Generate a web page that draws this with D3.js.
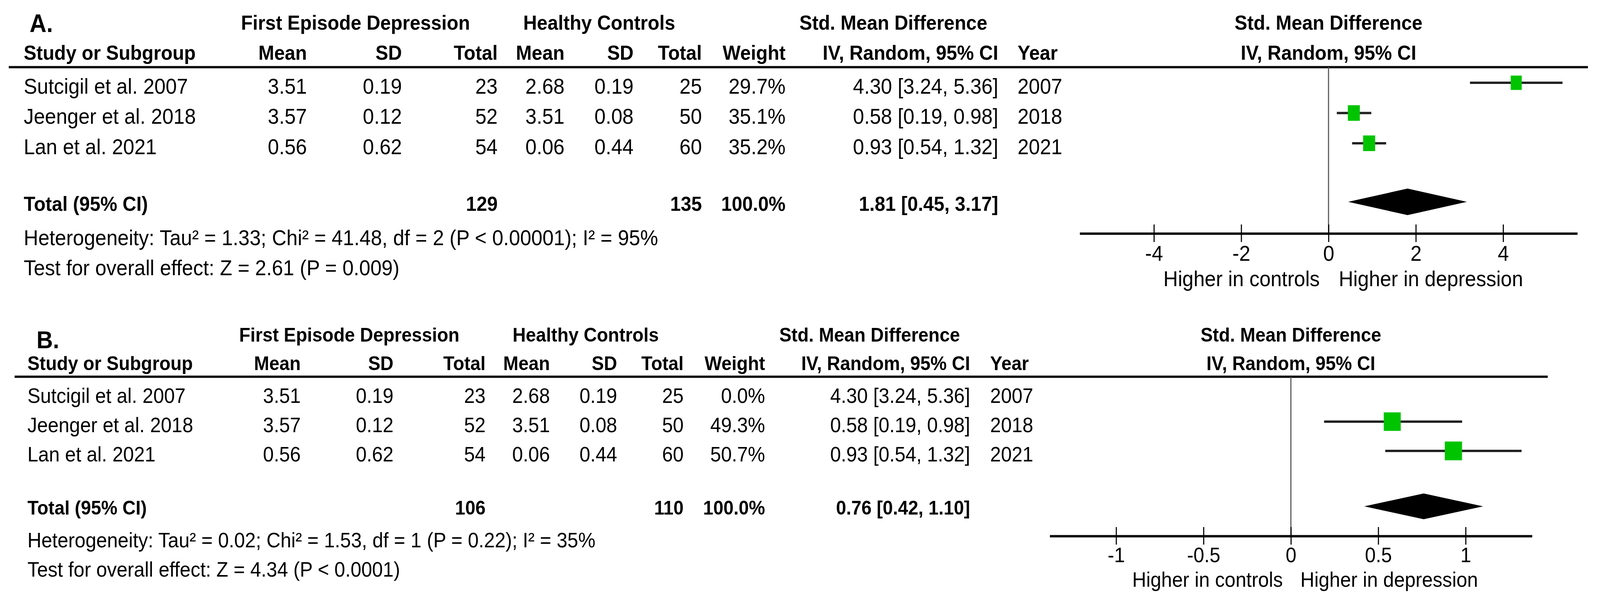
<!DOCTYPE html>
<html>
<head>
<meta charset="utf-8">
<script src="https://cdn.jsdelivr.net/npm/d3@7"></script>
<style>
  html, body { margin: 0; padding: 0; background: #fff; overflow: hidden; }
  svg { display: block; font-family: "Liberation Sans", Arial, sans-serif; }
</style>
</head>
<body>
<div id="chart"></div>
<script>
// ---- data ----
const studies = ['Sutcigil et al. 2007', 'Jeenger et al. 2018', 'Lan et al. 2021'];
const years = [2007, 2018, 2021];
const fedMean = [3.51, 3.57, 0.56];
const fedSD = [0.19, 0.12, 0.62];
const fedN = [23, 52, 54];
const hcMean = [2.68, 3.51, 0.06];
const hcSD = [0.19, 0.08, 0.44];
const hcN = [25, 50, 60];
const smd = [4.30, 0.58, 0.93];
const ciLow = [3.24, 0.19, 0.54];
const ciHigh = [5.36, 0.98, 1.32];

const weightA = [29.7, 35.1, 35.2];
const weightB = [0.0, 49.3, 50.7];

const totalsA = { fed: 129, hc: 135, est: 1.81, lo: 0.45, hi: 3.17 };
const totalsB = { fed: 106, hc: 110, est: 0.76, lo: 0.42, hi: 1.10 };

const hetA = 'Heterogeneity: Tau² = 1.33; Chi² = 41.48, df = 2 (P < 0.00001); I² = 95%';
const testA = 'Test for overall effect: Z = 2.61 (P = 0.009)';
const hetB = 'Heterogeneity: Tau² = 0.02; Chi² = 1.53, df = 1 (P = 0.22); I² = 35%';
const testB = 'Test for overall effect: Z = 4.34 (P < 0.0001)';

const ticksA = [-4, -2, 0, 2, 4];
const ticksB = [-1, -0.5, 0, 0.5, 1];
const domainA = [-5.7, 5.7];
const domainB = [-1.38, 1.38];

// ---- page ----
const width = 4379;
const height = 1542;

// drawn in reference pixel units, stretched to whatever the window really is
const svg = d3.select('#chart')
              .append('svg')
              .attr('viewBox', `0 0 ${width} ${height}`)
              .attr('preserveAspectRatio', 'none')
              .style('width', '100vw')
              .style('height', '100vh');

svg.append('rect').attr('width', width).attr('height', height).attr('fill', '#fff');

function drawPanel(p) {
    const g = svg.append('g');

    const text = (x, y, s, bold, anchor) => g.append('text')
        .attr('x', x)
        .attr('y', y)
        .attr('font-size', bold ? p.fsb : p.fs)
        .attr('font-weight', bold ? 'bold' : 'normal')
        .attr('text-anchor', anchor || 'start')
        .attr('fill', '#000')
        .text(s);

    const x = d3.scaleLinear().domain(p.domain).range([p.plotX0, p.plotX1]);
    const row = d3.scaleLinear().domain([0, studies.length - 1]).range([p.row0, p.rowN]);
    const side = d3.scaleSqrt().domain([0, 100]).range([0, p.sqMax]);
    const c = p.cols;

    // panel letter
    g.append('text')
     .attr('x', p.labelX).attr('y', p.labelY)
     .attr('font-size', p.labelSize).attr('font-weight', 'bold')
     .text(p.label);

    // group headers
    text(p.groupX.fed, p.groupY, 'First Episode Depression', true, 'middle');
    text(p.groupX.hc, p.groupY, 'Healthy Controls', true, 'middle');
    text(p.groupX.smd, p.groupY, 'Std. Mean Difference', true, 'middle');
    text(x(0), p.groupY, 'Std. Mean Difference', true, 'middle');

    // column headers
    text(c.study, p.headY, 'Study or Subgroup', true);
    text(c.fedMean, p.headY, 'Mean', true, 'end');
    text(c.fedSD, p.headY, 'SD', true, 'end');
    text(c.fedN, p.headY, 'Total', true, 'end');
    text(c.hcMean, p.headY, 'Mean', true, 'end');
    text(c.hcSD, p.headY, 'SD', true, 'end');
    text(c.hcN, p.headY, 'Total', true, 'end');
    text(c.weight, p.headY, 'Weight', true, 'end');
    text(c.ci, p.headY, 'IV, Random, 95% CI', true, 'end');
    text(c.year, p.headY, 'Year', true);
    text(x(0), p.headY, 'IV, Random, 95% CI', true, 'middle');

    g.append('line')
     .attr('x1', p.ruleX0).attr('x2', p.ruleX1)
     .attr('y1', p.ruleY).attr('y2', p.ruleY)
     .attr('stroke', '#111').attr('stroke-width', 6);

    // study rows
    studies.forEach((s, i) => {
        const y = row(i);
        text(c.study, y, s);
        text(c.fedMean, y, fedMean[i].toFixed(2), false, 'end');
        text(c.fedSD, y, fedSD[i].toFixed(2), false, 'end');
        text(c.fedN, y, fedN[i], false, 'end');
        text(c.hcMean, y, hcMean[i].toFixed(2), false, 'end');
        text(c.hcSD, y, hcSD[i].toFixed(2), false, 'end');
        text(c.hcN, y, hcN[i], false, 'end');
        text(c.weight, y, p.weights[i].toFixed(1) + '%', false, 'end');
        text(c.ci, y, `${smd[i].toFixed(2)} [${ciLow[i].toFixed(2)}, ${ciHigh[i].toFixed(2)}]`, false, 'end');
        text(c.year, y, years[i]);
    });

    // totals
    const t = p.totals;
    text(c.study, p.totalY, 'Total (95% CI)', true);
    text(c.fedN, p.totalY, t.fed, true, 'end');
    text(c.hcN, p.totalY, t.hc, true, 'end');
    text(c.weight, p.totalY, '100.0%', true, 'end');
    text(c.ci, p.totalY, `${t.est.toFixed(2)} [${t.lo.toFixed(2)}, ${t.hi.toFixed(2)}]`, true, 'end');
    text(p.textX, p.hetY, p.het);
    text(p.textX, p.testY, p.test);

    // zero line
    g.append('line')
     .attr('x1', x(0)).attr('x2', x(0))
     .attr('y1', p.ruleY).attr('y2', p.axisY)
     .attr('stroke', '#555').attr('stroke-width', 3);

    // study estimates (0% weight studies are not drawn)
    const shown = d3.range(studies.length).filter(i => p.weights[i] > 0);

    g.selectAll('.ci')
     .data(shown)
     .enter().append('line')
     .attr('class', 'ci')
     .attr('x1', i => x(ciLow[i]))
     .attr('x2', i => x(ciHigh[i]))
     .attr('y1', i => row(i) + p.markOff)
     .attr('y2', i => row(i) + p.markOff)
     .attr('stroke', '#222').attr('stroke-width', 6);

    g.selectAll('.sq')
     .data(shown)
     .enter().append('rect')
     .attr('class', 'sq')
     .attr('x', i => x(smd[i]) - side(p.weights[i]) * p.sqAspect / 2)
     .attr('y', i => row(i) + p.markOff - side(p.weights[i]) / 2)
     .attr('width', i => side(p.weights[i]) * p.sqAspect)
     .attr('height', i => side(p.weights[i]))
     .attr('fill', '#00c400');

    // pooled diamond
    const cy = p.totalY + p.diamondOff;
    g.append('path')
     .attr('d', d3.line()([
         [x(t.lo), cy], [x(t.est), cy - p.diamondH],
         [x(t.hi), cy], [x(t.est), cy + p.diamondH]
     ]) + 'Z')
     .attr('fill', '#000');

    // axis
    const axis = g.append('g')
                  .attr('transform', `translate(0,${p.axisY})`)
                  .call(d3.axisBottom(x)
                          .tickValues(p.ticks)
                          .tickFormat(d => String(d))
                          .tickSizeInner(22)
                          .tickSizeOuter(0))
                  .attr('font-family', null)
                  .attr('font-size', null);

    axis.select('.domain').attr('stroke', '#000').attr('stroke-width', 6);
    axis.selectAll('.tick line').attr('y1', -23).attr('stroke', '#000').attr('stroke-width', 3);
    axis.selectAll('.tick text')
        .attr('y', p.tickLabelOff)
        .attr('dy', null)
        .attr('font-size', p.fs)
        .attr('fill', '#000');

    text(x(0) - p.favGapL, p.favY, 'Higher in controls', false, 'end');
    text(x(0) + p.favGapR, p.favY, 'Higher in depression');
}

drawPanel({
    label: 'A.', labelX: 81, labelY: 82, labelSize: 64,
    fs: 55, fsb: 52,
    groupY: 76, headY: 153,
    groupX: { fed: 973, hc: 1640, smd: 2445 },
    ruleY: 172, ruleX0: 24, ruleX1: 4346,
    row0: 240, rowN: 395,
    totalY: 540, hetY: 628, testY: 705, textX: 65,
    cols: { study: 65, fedMean: 840, fedSD: 1100, fedN: 1362, hcMean: 1545,
            hcSD: 1734, hcN: 1921, weight: 2150, ci: 2732, year: 2785 },
    weights: weightA, totals: totalsA, het: hetA, test: testA,
    domain: domainA, ticks: ticksA,
    plotX0: 2955, plotX1: 4317, axisY: 598, tickLabelOff: 70,
    favY: 733, favGapL: 24, favGapR: 28,
    markOff: -28, sqMax: 67.5, sqAspect: 0.82,
    diamondOff: -23, diamondH: 34
});

drawPanel({
    label: 'B.', labelX: 100, labelY: 892, labelSize: 62,
    fs: 53, fsb: 50,
    groupY: 875, headY: 948,
    groupX: { fed: 956, hc: 1603, smd: 2380 },
    ruleY: 965, ruleX0: 40, ruleX1: 4236,
    row0: 1032, rowN: 1182,
    totalY: 1318, hetY: 1402, testY: 1477, textX: 75,
    cols: { study: 75, fedMean: 823, fedSD: 1077, fedN: 1329, hcMean: 1505,
            hcSD: 1689, hcN: 1871, weight: 2094, ci: 2655, year: 2710 },
    weights: weightB, totals: totalsB, het: hetB, test: testB,
    domain: domainB, ticks: ticksB,
    plotX0: 2873, plotX1: 4193, axisY: 1373, tickLabelOff: 67,
    favY: 1503, favGapL: 22, favGapR: 26,
    markOff: -27, sqMax: 67.5, sqAspect: 0.98,
    diamondOff: -21, diamondH: 33
});
</script>
</body>
</html>
